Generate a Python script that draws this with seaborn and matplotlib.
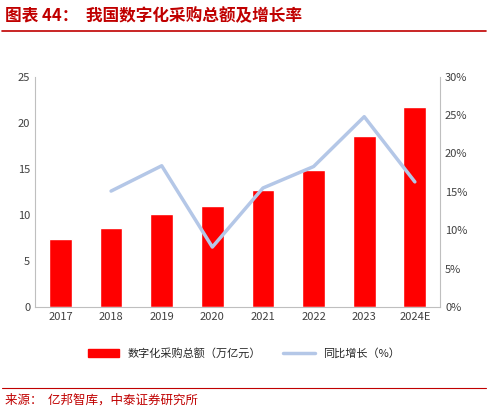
import matplotlib
matplotlib.use("Agg")
import matplotlib.pyplot as plt
import seaborn as sns
import pandas as pd
from matplotlib.lines import Line2D

years = ["2017", "2018", "2019", "2020", "2021", "2022", "2023", "2024E"]
amount = [7.4, 8.6, 10.1, 11.0, 12.7, 14.9, 18.6, 21.7]
growth = [None, 15.1, 18.4, 7.8, 15.5, 18.3, 24.8, 16.3]

sns.set_style("white")
plt.rcParams['font.family'] = ['Noto Sans CJK SC', 'DejaVu Sans']

df = pd.DataFrame({"year": years, "amount": amount, "growth": growth})

fig = plt.figure(figsize=(4.88, 4.13), dpi=100)
ax = fig.add_axes([0.072, 0.257, 0.83, 0.557])
sns.barplot(data=df, x="year", y="amount", color="#FF0000", width=0.45, ax=ax, saturation=1)
ax.set_ylim(0, 25)
ax.set_yticks(range(0, 26, 5))
ax.set_xlabel(""); ax.set_ylabel("")
ax2 = ax.twinx()
sns.lineplot(x=list(range(len(years))), y=growth, ax=ax2, color="#B4C7E7", linewidth=2.5)
ax2.set_ylim(0, 30)
ax2.set_yticks(range(0, 31, 5))
ax2.set_yticklabels([f"{v}%" for v in range(0, 31, 5)])
for a in (ax, ax2):
    for s in ["top", "right", "left"]:
        a.spines[s].set_visible(False)
    a.tick_params(labelsize=8, colors="#404040", length=0)
ax.spines["bottom"].set_color("#BFBFBF")
ax.spines["left"].set_visible(True); ax.spines["left"].set_color("#BFBFBF")
ax2.spines["right"].set_visible(True); ax2.spines["right"].set_color("#BFBFBF")
ax2.spines["left"].set_visible(False); ax2.spines["bottom"].set_visible(False)
ax.set_xlim(-0.5, 7.5)

handles = [plt.Rectangle((0, 0), 1, 1, color="#FF0000"),
           Line2D([0], [0], color="#B4C7E7", lw=2.5)]
fig.legend(handles, ["数字化采购总额（万亿元）", "同比增长（%）"], loc="center",
           bbox_to_anchor=(0.5, 0.145), ncol=2, frameon=False, fontsize=8,
           handlelength=2.8, columnspacing=2)

fig.text(0.01, 0.96, "图表 44：  我国数字化采购总额及增长率", color="#C00000",
         fontsize=12, fontweight="bold", style="italic", va="center")
fig.add_artist(Line2D([0.005, 0.995], [0.925, 0.925], color="#C00000", lw=1.2))
fig.add_artist(Line2D([0.005, 0.995], [0.06, 0.06], color="#C00000", lw=0.8))
fig.text(0.01, 0.03, "来源：  亿邦智库，中泰证券研究所", color="#C00000", fontsize=9, va="center")

fig.savefig("out.png", dpi=100)
